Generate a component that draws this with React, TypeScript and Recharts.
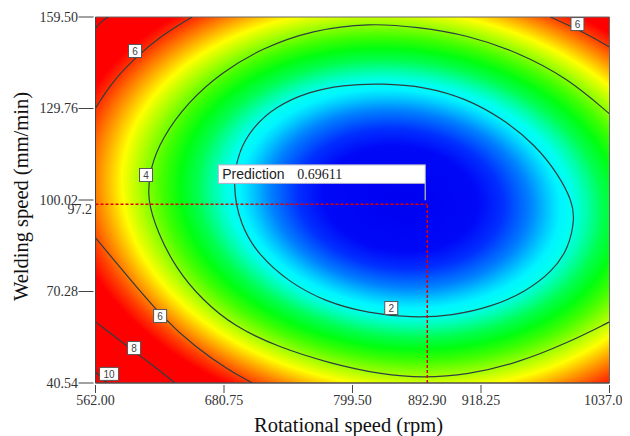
import React from "react";
import {
  ComposedChart,
  XAxis,
  YAxis,
  Line,
  Scatter,
  ReferenceArea,
  ReferenceLine,
  Label,
} from "recharts";

const X_TICKS = [562.0, 680.75, 799.5, 918.25, 1037.0];
const Y_TICKS = [40.54, 70.28, 100.02, 129.76, 159.5];

// where the crosshair sits on the plot, and the numbers printed for it
const PREDICTION = { x: 868.6, y: 98.6, value: 0.69611 };
const PRED_X_LABEL = "892.90";
const PRED_Y_TICK = 97.2;

// contour lines (rpm, mm/min)
const CONTOUR_2 = [
  { x: 688.5, y: 104.9 }, { x: 694.1, y: 115.7 }, { x: 706.5, y: 123.3 },
  { x: 728.0, y: 130.35 }, { x: 758.8, y: 135.2 }, { x: 789.7, y: 137.4 },
  { x: 826.7, y: 137.95 }, { x: 866.8, y: 136.85 }, { x: 903.8, y: 133.1 },
  { x: 937.7, y: 126.6 }, { x: 968.5, y: 117.9 }, { x: 990.1, y: 108.15 },
  { x: 1002.5, y: 99.5 }, { x: 1004.9, y: 94.1 }, { x: 999.3, y: 84.3 },
  { x: 984.0, y: 76.7 }, { x: 959.3, y: 70.2 }, { x: 928.5, y: 65.35 },
  { x: 891.5, y: 62.4 }, { x: 854.5, y: 61.75 }, { x: 814.3, y: 63.2 },
  { x: 774.3, y: 66.95 }, { x: 740.3, y: 73.45 }, { x: 712.6, y: 82.15 },
  { x: 695.7, y: 91.9 },
];

const CONTOUR_4 = [
  { x: 1037, y: 128.0 }, { x: 998.1, y: 139.7 }, { x: 951.9, y: 148.1 },
  { x: 905.6, y: 153.65 }, { x: 859.4, y: 156.25 }, { x: 815.9, y: 157.55 },
  { x: 762.3, y: 155.3 }, { x: 716.0, y: 149.4 }, { x: 679.0, y: 141.6 },
  { x: 647.6, y: 131.9 }, { x: 623.5, y: 120.2 }, { x: 612.4, y: 110.4 },
  { x: 609.6, y: 100.0 }, { x: 619.8, y: 89.3 }, { x: 635.5, y: 78.25 },
  { x: 660.5, y: 67.5 }, { x: 691.0, y: 58.75 }, { x: 730.8, y: 52.25 },
  { x: 777.1, y: 47.05 }, { x: 827.9, y: 43.15 }, { x: 864.9, y: 42.2 },
  { x: 905.6, y: 43.15 }, { x: 951.9, y: 47.05 }, { x: 998.1, y: 53.55 },
  { x: 1037, y: 60.4 },
];

const CONTOUR_6_TOP_LEFT = [
  { x: 562, y: 129.9 }, { x: 577.3, y: 138.4 }, { x: 598.5, y: 146.2 },
  { x: 623.5, y: 153.65 }, { x: 651.3, y: 159.5 },
];
const CONTOUR_6_TOP_RIGHT = [
  { x: 982.4, y: 159.5 }, { x: 1012.9, y: 154.6 }, { x: 1037, y: 149.75 },
];
const CONTOUR_6_BOTTOM_LEFT = [
  { x: 562, y: 87.7 }, { x: 592.1, y: 75.0 }, { x: 623.5, y: 62.0 },
  { x: 654.0, y: 52.25 }, { x: 684.6, y: 44.8 }, { x: 706.8, y: 40.54 },
];
const CONTOUR_8_TOP_LEFT = [
  { x: 562, y: 155.9 }, { x: 567.1, y: 157.9 }, { x: 573.6, y: 159.5 },
];
const CONTOUR_8_BOTTOM_LEFT = [
  { x: 562, y: 60.4 }, { x: 592.1, y: 52.25 }, { x: 617.0, y: 45.75 },
  { x: 635.5, y: 40.54 },
];
const CONTOUR_10 = [
  { x: 562, y: 44.1 }, { x: 572.6, y: 40.54 },
];

const OPEN_CONTOURS = [
  CONTOUR_4, CONTOUR_6_TOP_LEFT, CONTOUR_6_TOP_RIGHT, CONTOUR_6_BOTTOM_LEFT,
  CONTOUR_8_TOP_LEFT, CONTOUR_8_BOTTOM_LEFT, CONTOUR_10,
];

const CONTOUR_LABELS = [
  { x: 598.5, y: 148.45, text: "6" },
  { x: 608.7, y: 108.15, text: "4" },
  { x: 835.3, y: 64.9, text: "2" },
  { x: 621.7, y: 62.3, text: "6" },
  { x: 597.6, y: 51.9, text: "8" },
  { x: 574.5, y: 43.5, text: "10" },
  { x: 1007.4, y: 157.2, text: "6" },
];

const SERIF = "'Liberation Serif', 'Times New Roman', serif";
const SANS = "'Liberation Sans', Arial, sans-serif";

// colour ramp of the response surface, 0 = centre of the ellipses
const SURFACE_STOPS = [
  { offset: 0, color: "#0000f0" },
  { offset: 0.173, color: "#0008f8" },
  { offset: 0.23, color: "#0030ff" },
  { offset: 0.29, color: "#0080ff" },
  { offset: 0.335, color: "#00d0ff" },
  { offset: 0.358, color: "#00f4ff" },
  { offset: 0.385, color: "#00fff0" },
  { offset: 0.415, color: "#00ffb0" },
  { offset: 0.454, color: "#00ff50" },
  { offset: 0.492, color: "#00ff10" },
  { offset: 0.531, color: "#40ff00" },
  { offset: 0.577, color: "#a0ff00" },
  { offset: 0.623, color: "#ffff00" },
  { offset: 0.669, color: "#ff9a00" },
  { offset: 0.712, color: "#ff4000" },
  { offset: 0.75, color: "#ff0000" },
  { offset: 1, color: "#ff0000" },
];

function XTick(props: any) {
  const { x, y, payload } = props;
  const isPred = payload.value === PREDICTION.x;
  const isLast = payload.value === X_TICKS[X_TICKS.length - 1];
  return (
    <g>
      {!isPred && <line x1={x} y1={y} x2={x} y2={y + 8} stroke="#444" />}
      <text
        x={isLast ? x + 20 : x}
        y={y + 15}
        textAnchor={isLast ? "end" : "middle"}
        dominantBaseline="central"
        fontFamily={SERIF}
        fontSize={14}
        fill="#333"
      >
        {isPred ? PRED_X_LABEL : Number(payload.value).toFixed(2)}
      </text>
    </g>
  );
}

function YTick(props: any) {
  const { x, y, payload } = props;
  const isPred = payload.value === PRED_Y_TICK;
  return (
    <g>
      {!isPred && <line x1={x - 15} y1={y} x2={x} y2={y} stroke="#444" />}
      <text
        x={isPred ? x - 1.5 : x - 15.5}
        y={isPred ? y + 1 : y}
        textAnchor="end"
        dominantBaseline="central"
        fontFamily={SERIF}
        fontSize={14}
        fill="#333"
      >
        {isPred ? String(PRED_Y_TICK) : Number(payload.value).toFixed(2)}
      </text>
    </g>
  );
}

function XTitle(props: any) {
  const { x, y, width } = props.viewBox;
  return (
    <text
      x={x + width / 2 - 4}
      y={y + 42}
      textAnchor="middle"
      dominantBaseline="central"
      fontFamily={SERIF}
      fontSize={20.5}
      fill="#111"
    >
      Rotational speed (rpm)
    </text>
  );
}

function YTitle(props: any) {
  const { x, y, height } = props.viewBox;
  const cx = x + 13;
  const cy = y + height / 2 - 3.5;
  return (
    <text
      x={cx}
      y={cy}
      transform={`rotate(-90 ${cx} ${cy})`}
      textAnchor="middle"
      dominantBaseline="central"
      fontFamily={SERIF}
      fontSize={20.5}
      fill="#111"
    >
      Welding speed (mm/min)
    </text>
  );
}

function ContourTag(props: any) {
  const { cx, cy, payload } = props;
  const w = 7 + 6 * payload.text.length;
  return (
    <g>
      <rect x={cx - w / 2} y={cy - 6.5} width={w} height={13} fill="#fff" stroke="#555" strokeWidth={1} />
      <text
        x={cx}
        y={cy + 0.5}
        textAnchor="middle"
        dominantBaseline="central"
        fontFamily={SANS}
        fontSize={10}
        fill="#444"
      >
        {payload.text}
      </text>
    </g>
  );
}

function PredictionBox(props: any) {
  const { cx, cy, payload } = props;
  const right = cx - 2;
  const left = cx - 209;
  return (
    <g>
      <line x1={right} y1={cy - 21} x2={right} y2={cy - 4} stroke="#a0a0b8" strokeWidth={1.5} />
      <rect x={left} y={cy - 39.5} width={right - left} height={18.5} fill="#fff" stroke="#b0b0c8" />
      <text x={left + 4} y={cy - 30} dominantBaseline="central" fontFamily={SANS} fontSize={14} fill="#222">
        Prediction
      </text>
      <text x={left + 79} y={cy - 30} dominantBaseline="central" fontFamily={SERIF} fontSize={14} fill="#222">
        {payload.value.toFixed(5)}
      </text>
    </g>
  );
}

export default function App() {
  return (
    <ComposedChart
      width={622}
      height={428}
      margin={{ top: 9, right: 20.5, bottom: 0, left: 0 }}
    >
      <defs>
        <radialGradient
          id="surface"
          cx={0.593}
          cy={0.497}
          r={0.866}
          gradientTransform="translate(0.593 0.497) skewX(5.2) scale(1 0.964) translate(-0.593 -0.497)"
        >
          {SURFACE_STOPS.map((s) => (
            <stop key={s.offset} offset={s.offset} stopColor={s.color} />
          ))}
        </radialGradient>
      </defs>
      <XAxis
        type="number"
        dataKey="x"
        domain={[562, 1037]}
        ticks={[...X_TICKS, PREDICTION.x]}
        interval={0}
        height={53}
        tickSize={0}
        tickLine={false}
        tick={<XTick />}
        axisLine={{ stroke: "#444" }}
        allowDataOverflow
      >
        <Label content={<XTitle />} />
      </XAxis>
      <YAxis
        type="number"
        dataKey="y"
        domain={[40.54, 159.5]}
        ticks={[...Y_TICKS, PRED_Y_TICK]}
        interval={0}
        width={87.5}
        tickSize={0}
        tickLine={false}
        tick={<YTick />}
        axisLine={{ stroke: "#444" }}
        allowDataOverflow
      >
        <Label content={<YTitle />} />
      </YAxis>
      <ReferenceArea
        x1={562}
        x2={1037}
        y1={40.54}
        y2={159.5}
        fill="url(#surface)"
        fillOpacity={1}
        stroke="#666"
      />
      <Line
        data={CONTOUR_2}
        dataKey="y"
        type="basisClosed"
        stroke="#2f3f3f"
        strokeWidth={1.2}
        dot={false}
        activeDot={false}
        isAnimationActive={false}
      />
      {OPEN_CONTOURS.map((pts, i) => (
        <Line
          key={i}
          data={pts}
          dataKey="y"
          type="basis"
          stroke="#2f3f3f"
          strokeWidth={1.2}
          dot={false}
          activeDot={false}
          isAnimationActive={false}
        />
      ))}
      <ReferenceLine
        segment={[{ x: 562, y: PREDICTION.y }, { x: PREDICTION.x, y: PREDICTION.y }]}
        stroke="#e00000"
        strokeWidth={1.5}
        strokeDasharray="3 2"
      />
      <ReferenceLine
        segment={[{ x: PREDICTION.x, y: 40.54 }, { x: PREDICTION.x, y: PREDICTION.y }]}
        stroke="#e00000"
        strokeWidth={1.5}
        strokeDasharray="3 2"
      />
      <Scatter data={CONTOUR_LABELS} dataKey="y" shape={<ContourTag />} isAnimationActive={false} />
      <Scatter data={[PREDICTION]} dataKey="y" shape={<PredictionBox />} isAnimationActive={false} />
    </ComposedChart>
  );
}
